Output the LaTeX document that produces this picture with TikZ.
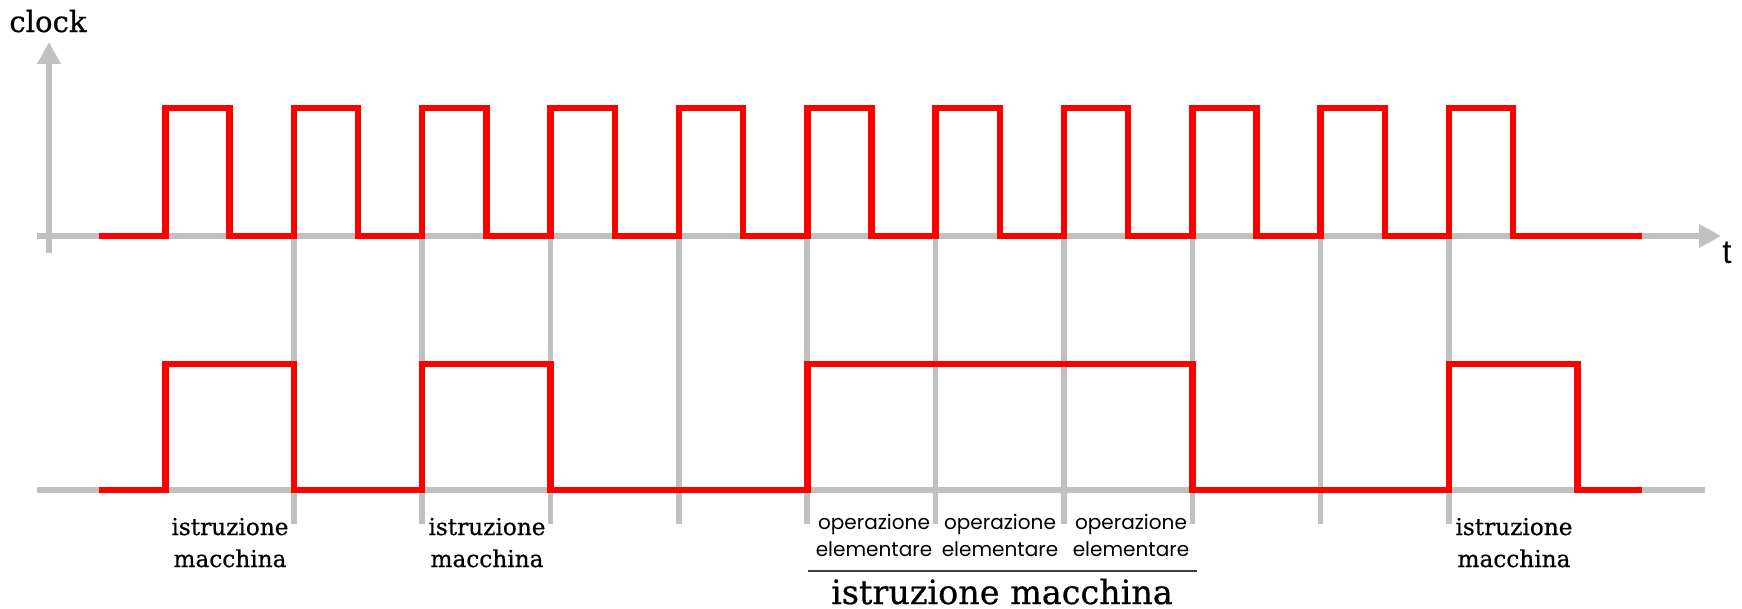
\documentclass[tikz,border=0pt]{standalone}
\usepackage{fontspec}
\setmainfont{DejaVu Serif}[BoldFont=DejaVu Serif,BoldFeatures={FakeBold=0.6}]
\newfontfamily\opfont{Poppins}
\newfontfamily\axfont{Liberation Sans}
\usetikzlibrary{arrows.meta}
\definecolor{sigred}{RGB}{255,0,0}
\definecolor{axgray}{RGB}{192,192,192}
\definecolor{rulegray}{RGB}{60,60,60}
\begin{document}
\begin{tikzpicture}[x=0.01cm,y=-0.01cm,
  axis/.style={draw=axgray,line width=1.75pt},
  grid/.style={draw=axgray,line width=1.6pt},
  wave/.style={draw=sigred,line width=1.85pt,line join=miter},
  axtip/.style={-{Triangle[length=6.2pt,width=6.3pt]}},
  lbl/.style={font=\bfseries\fontsize{6.6}{9.1}\selectfont,align=center,anchor=base,inner sep=0pt},
  oplbl/.style={font=\opfont\fontsize{5.7}{7.4}\selectfont,align=center,anchor=base,inner sep=0pt}]
\useasboundingbox (0,0) rectangle (1742,609);
% clock period and high/low levels
\def\rz{165.5}\def\per{128.35}\def\hw{64.2}
% vertical marks at the rising edges
\foreach \k in {1,...,10}{
  \draw[grid] ({\rz+\k*\per},236) -- ({\rz+\k*\per},524);
}
% axes
\draw[axis,axtip] (49,253) -- (49,42);
\draw[axis,axtip] (37,236) -- (1721,236);
\draw[axis] (37,490) -- (1705,490);
% clock waveform
\draw[wave] (99,236)
  \foreach \k in {0,...,10}{
    -- ({\rz+\k*\per},236) -- ({\rz+\k*\per},108)
    -- ({\rz+\k*\per+\hw},108) -- ({\rz+\k*\per+\hw},236)
  } -- (1642,236);
% instruction waveform
\draw[wave] (99,490)
  -- ({\rz},490) -- ({\rz},364) -- ({\rz+\per},364) -- ({\rz+\per},490)
  -- ({\rz+2*\per},490) -- ({\rz+2*\per},364) -- ({\rz+3*\per},364) -- ({\rz+3*\per},490)
  -- ({\rz+5*\per},490) -- ({\rz+5*\per},364) -- ({\rz+8*\per},364) -- ({\rz+8*\per},490)
  -- ({\rz+10*\per},490) -- ({\rz+10*\per},364) -- ({\rz+11*\per},364) -- ({\rz+11*\per},490)
  -- (1642,490);
% labels (base anchor sits on the last line)
\node[font=\bfseries\fontsize{8.3}{10}\selectfont,anchor=base,inner sep=0pt] (clk) at (48,32) {clock};
\node[font=\axfont\fontsize{9.5}{10}\selectfont,anchor=base,inner sep=0pt] (tax) at (1727,263) {t};
\node[lbl] (im1) at (230,567) {istruzione\\macchina};
\node[lbl] (im2) at (487,567) {istruzione\\macchina};
\node[lbl] (im3) at (1514,567) {istruzione\\macchina};
\node[oplbl] (op1) at (874,556) {operazione\\elementare};
\node[oplbl] (op2) at (1000,556) {operazione\\elementare};
\node[oplbl] (op3) at (1131,556) {operazione\\elementare};
\coordinate (brl) at (808,571);
\coordinate (brr) at (1197,571);
\draw[draw=rulegray,line width=0.45pt] (brl) -- (brr);
\node[font=\bfseries\fontsize{9.5}{11}\selectfont,anchor=base,inner sep=0pt] (imbig) at (1002,604) {istruzione macchina};
\end{tikzpicture}
\end{document}
